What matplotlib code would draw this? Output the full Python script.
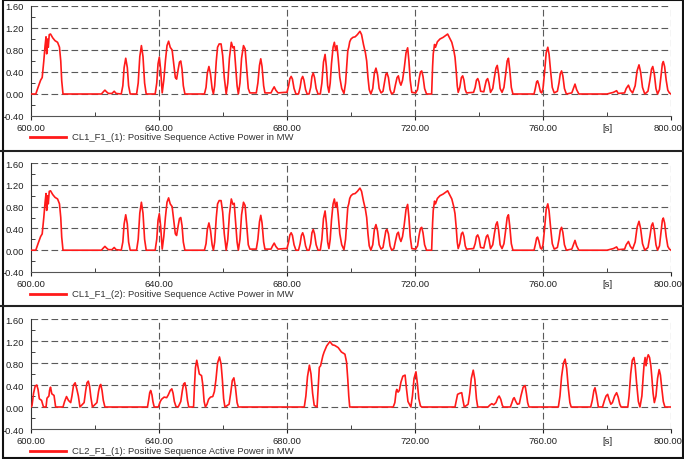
import matplotlib
matplotlib.use('Agg')
import matplotlib.pyplot as plt
import matplotlib.transforms as mtransforms
from matplotlib.lines import Line2D
from matplotlib.patches import Rectangle

plt.rcParams['font.family'] = ['Liberation Sans', 'DejaVu Sans']

# CL1_F1 (1) / (2): Positive Sequence Active Power [MW]
cl1_t = [600.0, 601.5, 602.2, 603.0, 603.5, 604.0, 604.4, 604.7, 604.9, 605.2, 605.4, 605.7, 606.1,
         606.8, 607.5, 608.3, 608.9, 609.3, 609.6, 610.0, 622.0, 622.6, 623.1, 623.6, 624.2, 625.3,
         626.0, 626.6, 628.2, 628.7, 629.1, 629.6, 630.1, 630.5, 631.0, 633.0, 633.5, 634.0, 634.5,
         635.0, 635.5, 636.0, 638.8, 639.3, 639.7, 640.1, 640.5, 641.0, 641.5, 642.0, 642.5, 643.0,
         643.5, 644.1, 644.6, 645.1, 645.5, 646.0, 646.4, 646.8, 647.2, 647.6, 648.1, 654.2, 654.7,
         655.1, 655.6, 656.1, 656.6, 657.0, 657.4, 657.9, 658.3, 658.8, 659.4, 659.9, 660.4, 661.0,
         661.5, 662.0, 662.6, 663.1, 663.5, 663.9, 664.4, 664.8, 665.3, 665.8, 666.4, 666.9, 667.4,
         667.9, 668.4, 670.4, 670.9, 671.4, 671.8, 672.2, 672.7, 673.1, 675.0, 675.5, 676.0, 676.5,
         677.2, 679.3, 680.0, 680.5, 680.9, 681.3, 681.7, 682.2, 682.8, 683.6, 684.1, 684.5, 684.9,
         685.3, 685.8, 686.3, 686.9, 687.4, 687.8, 688.2, 688.6, 689.1, 689.7, 690.4, 690.9, 691.4,
         691.9, 692.3, 692.7, 693.1, 693.5, 693.9, 694.4, 694.8, 695.2, 695.6, 696.0, 696.5, 697.1,
         697.8, 698.3, 698.7, 699.0, 699.3, 699.6, 700.0, 700.6, 701.3, 702.0, 702.8, 703.3, 703.9,
         704.5, 704.9, 705.3, 705.7, 706.2, 706.8, 707.3, 707.8, 708.3, 708.8, 709.4, 710.0, 710.5,
         710.9, 711.25, 711.7, 712.2, 712.7, 713.4, 713.9, 714.4, 714.8, 715.2, 715.6, 716.1, 716.6,
         717.2, 717.7, 718.1, 718.5, 719.0, 720.2, 720.8, 721.3, 721.7, 722.1, 722.5, 723.0, 723.6,
         725.2, 725.5, 725.7, 726.1, 726.4, 727.0, 727.8, 728.8, 729.5, 730.2, 730.8, 731.5, 732.1,
         732.5, 732.9, 733.2, 733.5, 734.0, 734.5, 734.9, 735.3, 735.7, 736.1, 738.3, 738.8, 739.2,
         739.6, 740.0, 740.5, 741.5, 741.9, 742.3, 742.7, 743.1, 743.6, 744.3, 744.8, 745.3, 745.7,
         746.1, 746.6, 747.2, 747.8, 748.3, 748.8, 749.2, 749.6, 750.1, 750.6, 757.2, 757.6, 758.0,
         758.3, 758.7, 759.2, 759.6, 760.0, 760.5, 761.0, 761.5, 761.9, 762.4, 762.9, 763.5, 764.5,
         765.0, 765.4, 765.8, 766.2, 766.7, 767.3, 769.0, 769.5, 770.0, 770.5, 771.2, 780.0, 782.0,
         783.0, 783.5, 785.5, 786.0, 786.7, 787.3, 788.0, 788.8, 789.4, 790.0, 790.5, 791.1, 791.8,
         792.8, 793.4, 793.9, 794.3, 794.8, 795.3, 795.8, 796.4, 796.9, 797.3, 797.6, 798.0, 798.5,
         799.0, 799.5, 800.0]
cl1_p = [0.0, 0.0, 0.12, 0.25, 0.3, 0.6, 0.88, 1.04, 0.73, 1.0, 0.85, 1.08, 1.09,
         1.02, 0.97, 0.94, 0.85, 0.6, 0.24, 0.0, 0.0, 0.04, 0.07, 0.04, 0.01, 0.01,
         0.05, 0.01, 0.0, 0.15, 0.48, 0.65, 0.48, 0.15, 0.0, 0.0, 0.2, 0.68, 0.88,
         0.68, 0.2, 0.0, 0.0, 0.2, 0.55, 0.67, 0.45, 0.02, 0.25, 0.6, 0.88, 0.96,
         0.85, 0.8, 0.55, 0.3, 0.27, 0.45, 0.58, 0.6, 0.45, 0.15, 0.0, 0.0, 0.12,
         0.38, 0.5, 0.36, 0.1, 0.0, 0.15, 0.6, 0.85, 0.91, 0.91, 0.7, 0.3, 0.0,
         0.2, 0.65, 0.94, 0.84, 0.86, 0.55, 0.15, 0.0, 0.2, 0.65, 0.88, 0.82, 0.45,
         0.1, 0.02, 0.02, 0.2, 0.52, 0.64, 0.5, 0.15, 0.02, 0.02, 0.08, 0.13, 0.07,
         0.02, 0.03, 0.03, 0.15, 0.28, 0.32, 0.27, 0.1, 0.0, 0.0, 0.12, 0.27, 0.32,
         0.25, 0.08, 0.0, 0.0, 0.12, 0.32, 0.38, 0.3, 0.1, 0.0, 0.0, 0.2, 0.58,
         0.72, 0.5, 0.15, 0.03, 0.2, 0.55, 0.85, 0.94, 0.79, 0.88, 0.65, 0.3, 0.1,
         0.01, 0.2, 0.55, 0.79, 0.85, 0.95, 1.0, 1.03, 1.04, 1.08, 1.14, 1.08, 0.9,
         0.75, 0.6, 0.3, 0.08, 0.0, 0.1, 0.38, 0.47, 0.35, 0.1, 0.02, 0.05, 0.22,
         0.36, 0.38, 0.3, 0.08, 0.0, 0.03, 0.17, 0.3, 0.33, 0.22, 0.16, 0.25, 0.45,
         0.75, 0.84, 0.6, 0.25, 0.03, 0.02, 0.08, 0.28, 0.4, 0.42, 0.32, 0.1, 0.0,
         0.0, 0.5, 0.73, 0.9, 0.85, 0.95, 1.0, 1.03, 1.06, 1.09, 1.02, 0.94, 0.8,
         0.67, 0.4, 0.15, 0.03, 0.12, 0.3, 0.33, 0.25, 0.08, 0.02, 0.03, 0.12, 0.25,
         0.28, 0.22, 0.05, 0.04, 0.15, 0.25, 0.28, 0.2, 0.03, 0.1, 0.3, 0.47, 0.52,
         0.38, 0.1, 0.03, 0.12, 0.35, 0.6, 0.65, 0.45, 0.12, 0.0, 0.0, 0.1, 0.22,
         0.24, 0.17, 0.04, 0.02, 0.1, 0.4, 0.75, 0.85, 0.72, 0.4, 0.12, 0.02, 0.05,
         0.2, 0.37, 0.42, 0.33, 0.1, 0.0, 0.02, 0.1, 0.18, 0.08, 0.0, 0.0, 0.03,
         0.06, 0.01, 0.02, 0.1, 0.16, 0.07, 0.02, 0.15, 0.42, 0.53, 0.4, 0.12, 0.0,
         0.05, 0.25, 0.45, 0.5, 0.36, 0.1, 0.0, 0.08, 0.35, 0.55, 0.59, 0.5, 0.25,
         0.07, 0.02, 0.0]

# CL2_F1 (1)
cl2_t = [600.0, 600.3, 600.8, 601.3, 601.8, 602.2, 602.6, 603.3, 603.9, 604.7, 605.0, 605.6, 605.8,
         606.1, 606.5, 607.2, 607.7, 610.0, 610.5, 611.1, 611.7, 612.4, 612.8, 613.3, 613.8, 614.3,
         614.8, 615.3, 616.6, 617.1, 617.5, 617.9, 618.3, 618.7, 619.2, 620.6, 621.1, 621.5, 621.8,
         622.2, 622.6, 623.1, 636.4, 636.8, 637.1, 637.4, 637.8, 638.1, 638.5, 639.8, 640.4, 640.8,
         641.6, 642.4, 642.9, 643.5, 644.0, 644.4, 644.8, 645.3, 646.0, 646.8, 647.3, 647.7, 648.1,
         648.5, 648.9, 649.3, 650.8, 651.1, 651.4, 651.8, 652.2, 652.6, 653.3, 653.7, 654.1, 654.5,
         655.0, 655.5, 656.1, 656.8, 657.3, 657.8, 658.3, 658.9, 659.4, 659.8, 660.2, 660.6, 661.9,
         662.4, 662.9, 663.4, 663.9, 664.4, 664.8, 685.4, 685.9, 686.4, 687.0, 687.5, 688.0, 688.5,
         689.4, 689.8, 690.1, 690.5, 691.2, 691.6, 692.4, 693.4, 694.2, 694.9, 696.0, 697.0, 698.1,
         698.6, 699.0, 699.3, 699.6, 713.2, 713.7, 714.1, 714.3, 714.7, 715.1, 715.6, 716.2, 716.9,
         717.3, 717.8, 718.7, 719.2, 719.7, 720.3, 720.7, 721.2, 721.7, 722.1, 732.5, 732.9, 733.3,
         734.0, 734.6, 735.0, 735.4, 736.6, 737.1, 737.6, 738.2, 738.7, 739.2, 739.6, 742.8, 743.5,
         744.0, 744.6, 745.3, 745.9, 746.3, 746.8, 747.3, 747.6, 749.8, 750.3, 750.7, 751.0, 751.5,
         752.0, 752.6, 753.1, 753.8, 754.4, 754.8, 755.2, 755.6, 764.8, 765.3, 765.8, 766.4, 766.9,
         767.4, 767.9, 768.4, 768.8, 774.9, 775.4, 775.9, 776.25, 776.7, 777.3, 778.6, 779.2, 779.7,
         780.2, 780.7, 781.2, 781.7, 782.4, 783.0, 783.5, 784.0, 784.4, 786.5, 786.9, 787.4, 787.9,
         788.4, 788.8, 789.3, 789.8, 790.3, 790.9, 791.3, 791.6, 791.9, 792.2, 792.6, 792.9, 793.3,
         793.7, 794.0, 794.4, 794.8, 795.3, 795.8, 796.3, 796.7, 797.1, 797.6, 798.1, 800.0]
cl2_p = [0.0, 0.02, 0.25, 0.38, 0.4, 0.32, 0.15, 0.12, 0.0, 0.0, 0.16, 0.2, 0.3,
         0.36, 0.24, 0.21, 0.0, 0.0, 0.1, 0.19, 0.12, 0.08, 0.2, 0.4, 0.44, 0.33,
         0.2, 0.0, 0.08, 0.3, 0.44, 0.47, 0.38, 0.18, 0.0, 0.08, 0.28, 0.39, 0.41,
         0.3, 0.12, 0.0, 0.0, 0.14, 0.26, 0.3, 0.22, 0.1, 0.0, 0.0, 0.1, 0.14,
         0.18, 0.17, 0.22, 0.3, 0.33, 0.25, 0.1, 0.01, 0.0, 0.1, 0.3, 0.42, 0.44,
         0.32, 0.12, 0.0, 0.0, 0.4, 0.72, 0.85, 0.72, 0.6, 0.57, 0.4, 0.1, 0.0,
         0.05, 0.14, 0.18, 0.19, 0.28, 0.5, 0.8, 0.91, 0.78, 0.5, 0.15, 0.0, 0.05,
         0.25, 0.48, 0.53, 0.35, 0.08, 0.0, 0.0, 0.2, 0.55, 0.76, 0.6, 0.25, 0.03,
         0.0, 0.4, 0.72, 0.75, 0.93, 1.0, 1.11, 1.19, 1.13, 1.12, 1.08, 1.0, 0.96,
         0.82, 0.5, 0.2, 0.0, 0.0, 0.08, 0.28, 0.32, 0.27, 0.3, 0.45, 0.56, 0.58,
         0.35, 0.1, 0.0, 0.2, 0.52, 0.64, 0.45, 0.15, 0.02, 0.0, 0.0, 0.12, 0.23,
         0.25, 0.26, 0.12, 0.0, 0.05, 0.25, 0.52, 0.67, 0.5, 0.15, 0.0, 0.0, 0.04,
         0.06, 0.04, 0.08, 0.17, 0.2, 0.14, 0.03, 0.0, 0.0, 0.08, 0.15, 0.17, 0.1,
         0.05, 0.06, 0.2, 0.36, 0.39, 0.25, 0.08, 0.0, 0.0, 0.2, 0.55, 0.8, 0.87,
         0.7, 0.35, 0.08, 0.0, 0.0, 0.12, 0.3, 0.35, 0.22, 0.0, 0.0, 0.12, 0.2,
         0.23, 0.13, 0.05, 0.08, 0.2, 0.26, 0.18, 0.05, 0.0, 0.0, 0.2, 0.6, 0.85,
         0.9, 0.75, 0.4, 0.1, 0.0, 0.2, 0.55, 0.78, 0.9, 0.75, 0.9, 0.95, 0.9,
         0.75, 0.55, 0.25, 0.08, 0.2, 0.52, 0.68, 0.58, 0.35, 0.1, 0.0, 0.0]

x_major = [600, 640, 680, 720, 760, 800]
x_minor = [620, 660, 700, 740, 780]
x_minor_labels = ['', '', '', '', '[s]']
y_major = [-0.4, 0.0, 0.4, 0.8, 1.2, 1.6]
y_minor = [-0.2, 0.2, 0.6, 1.0, 1.4]

panels = [
    (cl1_t, cl1_p, 'CL1_F1_(1): Positive Sequence Active Power in MW'),
    (cl1_t, cl1_p, 'CL1_F1_(2): Positive Sequence Active Power in MW'),
    (cl2_t, cl2_p, 'CL2_F1_(1): Positive Sequence Active Power in MW'),
]

W, H = 684, 460
fig = plt.figure(figsize=(W / 100, H / 100), dpi=100)
fig.patch.set_facecolor('white')

# pixel boxes (top, bottom) of each plot area and legend row
ax_rows = [(7, 117), (164, 273), (320, 430)]
legend_y = [138, 295, 452]
left_px, right_px = 31, 671
fs = 6.8

grid_kw = dict(color='#5a5a5a', linewidth=0.8, linestyle=(0, (6, 3)))

for (t, p, name), (top, bot), ly in zip(panels, ax_rows, legend_y):
    ax = fig.add_axes([left_px / W, 1 - bot / H, (right_px - left_px) / W, (bot - top) / H])
    ax.plot(t, p, color='#ff1a1a', linewidth=1.2, solid_joinstyle='round', zorder=3)
    ax.set_xlim(600, 800)
    ax.set_ylim(-0.4, 1.6)

    ax.set_xticks(x_major)
    ax.set_xticklabels(['%.2f' % v for v in x_major])
    ax.set_xticks(x_minor, minor=True)
    ax.set_xticklabels(x_minor_labels, minor=True)
    ax.set_yticks(y_major)
    ax.set_yticklabels(['%.2f' % v for v in y_major])
    ax.set_yticks(y_minor, minor=True)

    ax.tick_params(axis='both', which='both', labelsize=fs, colors='#222222')
    ax.tick_params(axis='x', which='major', direction='out', length=3, pad=2)
    ax.tick_params(axis='x', which='minor', direction='in', length=3, pad=5)
    ax.tick_params(axis='y', which='major', direction='out', length=0, pad=5)
    ax.tick_params(axis='y', which='minor', direction='in', length=3)

    # last x label sits against the frame, nudge it in a little
    lab = ax.get_xticklabels()[-1]
    lab.set_transform(lab.get_transform() + mtransforms.ScaledTranslation(-3 / 100, 0, fig.dpi_scale_trans))

    for s in ['top', 'right']:
        ax.spines[s].set_visible(False)
    ax.spines['left'].set_color('#333333')
    ax.spines['bottom'].set_color('#555555')

    # dashed grid incl. the top (1.6) and right (800) borders
    for v in x_major[1:]:
        ax.axvline(v, **grid_kw, zorder=1)
    for v in y_major[1:]:
        ax.axhline(v, **grid_kw, zorder=1)

    # legend row under each plot
    fig.add_artist(Line2D([30 / W, 66 / W], [1 - ly / H, 1 - ly / H], color='#ff1a1a', linewidth=2.0))
    fig.text(72 / W, 1 - ly / H, name, fontsize=fs, color='#333333', va='center', ha='left')

# panel separators and outer frame
for sy in [152, 307]:
    fig.add_artist(Line2D([0, 1], [1 - sy / H, 1 - sy / H], color='#222222', linewidth=1.5))
fig.add_artist(Rectangle((2.5 / W, 1.5 / H), (W - 4) / W, (H - 2.5) / H, fill=False,
                         edgecolor='#111111', linewidth=1.5, transform=fig.transFigure))

plt.savefig('out.png', dpi=100)
